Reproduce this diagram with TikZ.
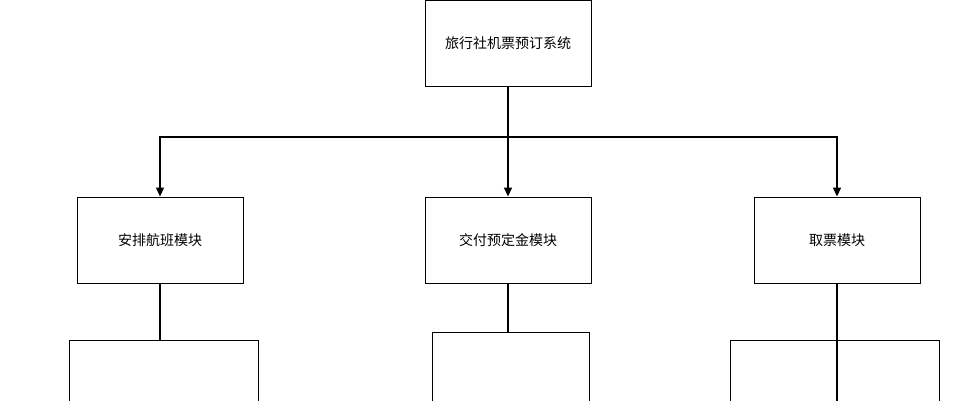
\documentclass[tikz,border=0pt]{standalone}
\usepackage{fontspec}
\newfontfamily\cjk{Noto Sans CJK SC}
\usetikzlibrary{arrows.meta}
\begin{document}
\begin{tikzpicture}[x=1pt,y=-1pt,
  box/.style={draw,line width=0.9pt,minimum width=166pt,minimum height=86pt,inner sep=0pt,font=\cjk\fontsize{14}{16}\selectfont},
  low/.style={draw,line width=0.9pt,inner sep=0pt},
  arr/.style={line width=1.3pt,-{Triangle[length=9pt,width=8pt]}},
  ln/.style={line width=1.3pt}]
\clip (0,0) rectangle (980,400);
\fill[white] (0,0) rectangle (980,400);
\node[box] (top) at (508,43.5) {旅行社机票预订系统};
\node[box] (a) at (160,240) {安排航班模块};
\node[box] (b) at (508,240) {交付预定金模块};
\node[box] (c) at (837,240) {取票模块};
\node[low,minimum width=189pt,minimum height=120pt] (la) at (163.5,400) {};
\node[low,minimum width=157pt,minimum height=136pt] (lb) at (510.5,400) {};
\node[low,minimum width=209pt,minimum height=120pt] (lc) at (834.5,400) {};
\coordinate (j) at (508,137);
\draw[ln] (top.south) -- (j);
\draw[arr] (j) -| (a.north);
\draw[arr] (j) -- (b.north);
\draw[arr] (j) -| (c.north);
\draw[ln] (a.south) -- (160,340);
\draw[ln] (b.south) -- (508,332);
\draw[ln] (c.south) -- (837,410);
\end{tikzpicture}
\end{document}
